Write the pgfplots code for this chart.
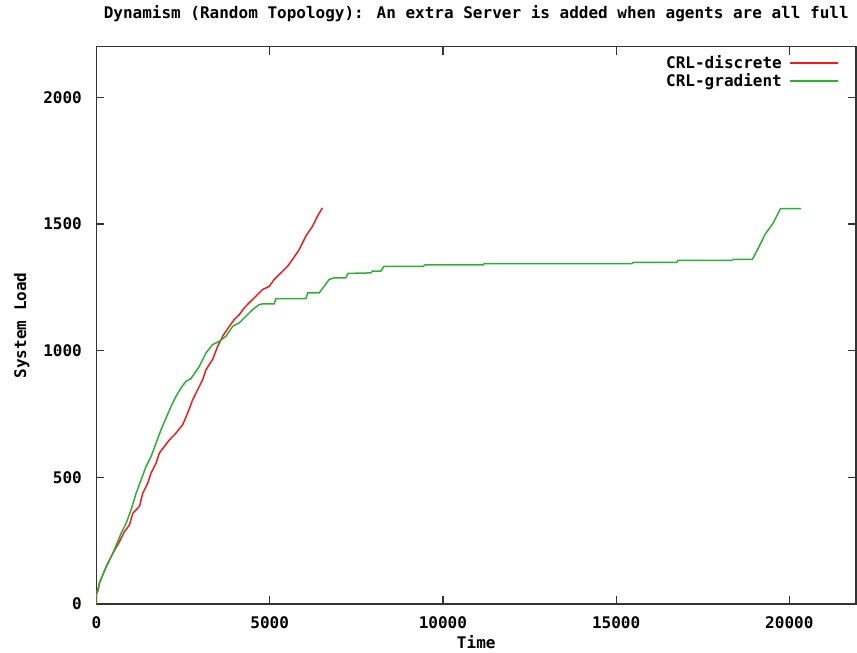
\documentclass[border=0pt]{standalone}
\usepackage{fontspec}
\setmainfont{DejaVu Sans Mono}
\usepackage{pgfplots}
\pgfplotsset{compat=1.18}
\newcommand\gp{\fontsize{16bp}{19bp}\selectfont\bfseries}
\definecolor{gpred}{RGB}{235,30,30}
\definecolor{gpgreen}{RGB}{45,175,55}
\begin{document}
\begin{tikzpicture}
\path[use as bounding box] (-96.5bp,-49bp) rectangle (760.5bp,604bp);
\begin{axis}[
  at={(0,0)}, anchor=south west,
  scale only axis, width=759.5bp, height=557.3bp,
  xmin=0, xmax=21925, ymin=0, ymax=2200,
  xtick={0,5000,...,20000}, ytick={0,500,...,2000},
  scaled ticks=false,
  /pgf/number format/1000 sep={},
  /pgf/number format/assume math mode=true,
  tick align=inside, major tick length=8bp,
  tick style={line width=1.2bp, black!80},
  axis line style={line width=1.3bp, black!80},
  font=\gp,
  title={Dynamism (Random Topology): An extra Server is added when agents are all full},
  title style={at={(0.5,1)}, anchor=base, yshift=22.7bp, inner sep=0, font=\gp},
  xlabel={Time},
  xlabel style={at={(0.5,-0.0807)}, anchor=base, inner sep=0, font=\gp},
  ylabel={System Load},
  ylabel style={at={(-0.0928,0.5)}, anchor=base, inner sep=0, font=\gp},
  xticklabel style={anchor=base, yshift=-24bp, inner sep=0, font=\gp},
  yticklabel style={anchor=east, xshift=-14.5bp, inner sep=0, font=\gp},
  legend style={at={(1,1)}, anchor=north east, xshift=-17bp, yshift=-7.3bp,
    draw=none, fill=none, inner sep=0, column sep=5bp, row sep=1bp,
    text height=12bp, text depth=3bp, font=\gp},
  legend cell align=right, legend plot pos=right,
  legend image code/.code={\draw[#1, line width=2bp] (0bp,0bp) -- (48bp,0bp);},
]
% CRL-discrete
\addplot[gpred, line width=1.5bp] coordinates {
  (0,0) (0,40) (50,55) (90,85) (280,147) (471,200) (663,246) (807,286)
  (951,312) (1047,358) (1239,385) (1335,437) (1479,477) (1575,517)
  (1719,556) (1815,596) (1960,622) (2104,648) (2296,675) (2488,708)
  (2632,754) (2776,806) (2920,846) (3064,885) (3161,925) (3352,965)
  (3497,1017) (3641,1057) (3833,1096) (3977,1123) (4121,1142) (4265,1169)
  (4409,1189) (4601,1215) (4793,1241) (4986,1254) (5130,1281) (5323,1307)
  (5515,1333) (5658,1360) (5851,1399) (6043,1452) (6235,1491) (6379,1531)
  (6523,1564)
};
\addlegendentry{CRL-discrete}
% CRL-gradient
\addplot[gpgreen, line width=1.5bp] coordinates {
  (0,0) (0,40) (90,85) (280,147) (471,200) (711,279) (855,319) (999,372)
  (1143,437) (1287,490) (1431,543) (1575,582) (1719,635) (1863,688)
  (2008,734) (2152,780) (2296,820) (2440,853) (2584,879) (2728,890)
  (2968,938) (3161,991) (3352,1024) (3545,1037) (3737,1057) (3929,1096)
  (4121,1110) (4314,1136) (4505,1162) (4698,1182) (4800,1185) (5130,1185)
  (5180,1205) (6043,1205) (6100,1228) (6427,1228) (6571,1254) (6715,1281)
  (6850,1287) (7195,1287) (7260,1305) (7917,1307) (7965,1314) (8206,1314)
  (8300,1333) (9435,1333) (9485,1339) (11168,1339) (11190,1344)
  (15452,1344) (15500,1349) (16750,1349) (16780,1356) (18340,1356)
  (18380,1360) (18930,1360) (19060,1393) (19300,1459) (19540,1505)
  (19733,1558) (19750,1561) (20340,1561)
};
\addlegendentry{CRL-gradient}
\end{axis}
\end{tikzpicture}
\end{document}
